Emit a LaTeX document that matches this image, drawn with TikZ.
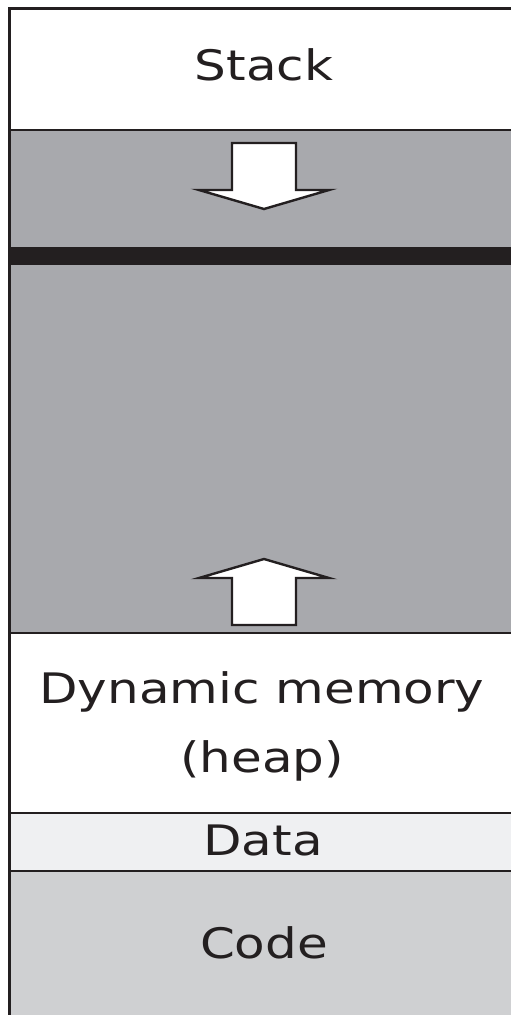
\documentclass[tikz,border=0pt]{standalone}
\usepackage{fontspec}
\setmainfont{DejaVu Sans}[FakeStretch=1.19]
\definecolor{midgray}{RGB}{168,169,173}
\definecolor{datagray}{RGB}{239,240,242}
\definecolor{codegray}{RGB}{207,208,210}
\definecolor{ink}{RGB}{35,31,32}
\tikzset{
  seg/.style={draw=ink, line width=2.4pt},
  bigarrow/.style={draw=ink, fill=white, line width=2.4pt, line join=miter},
  lbl/.style={text=ink, font=\fontsize{42}{69}\selectfont, anchor=base, align=center, inner sep=0pt}
}
\begin{document}
\begin{tikzpicture}[x=1pt,y=-1pt]
\useasboundingbox (0,0) rectangle (511,1015);
\clip (0,0) rectangle (511,1015);
\fill[white] (0,0) rectangle (511,1015);
% segments
\draw[seg, fill=white]    (9.5,8.5) rectangle (530,130);
\draw[seg, fill=midgray]  (9.5,130) rectangle (530,633);
\fill[ink] (9.5,247) rectangle (530,265);
\draw[seg, fill=white]    (9.5,633) rectangle (530,813);
\draw[seg, fill=datagray] (9.5,813) rectangle (530,871);
\draw[seg, fill=codegray] (9.5,871) rectangle (530,1040);
% arrows
\draw[bigarrow] (232,143) -- (296,143) -- (296,190) -- (329,190) -- (264,209) -- (199,190) -- (232,190) -- cycle;
\draw[bigarrow] (232,625) -- (296,625) -- (296,578) -- (329,578) -- (264,559) -- (199,578) -- (232,578) -- cycle;
% labels
\node[lbl] (stack) at (264,80) {Stack};
\node[lbl] (heap) at (262,772) {Dynamic memory\\(heap)};
\node[lbl] (data) at (263,855) {Data};
\node[lbl] (code) at (264,958) {Code};
\end{tikzpicture}
\end{document}
